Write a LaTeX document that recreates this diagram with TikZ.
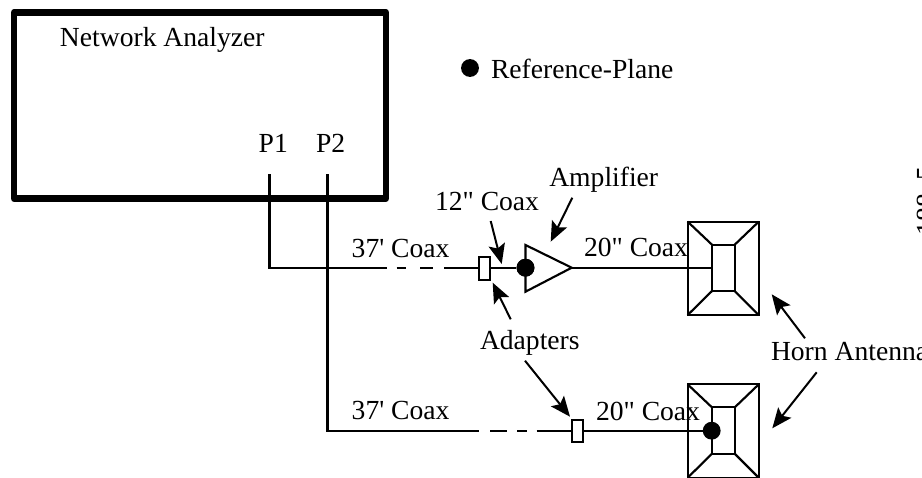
\documentclass[tikz,border=0pt]{standalone}
\usepackage{fontspec}
\setmainfont{Liberation Serif}
\newfontfamily\labelserif{Liberation Serif}
\usetikzlibrary{arrows.meta}
\tikzset{
  wire/.style={line width=1.6pt, line cap=butt, line join=miter},
  thickbox/.style={line width=4.9pt, line join=round},
  lab/.style={anchor=base west, inner sep=0pt, outer sep=0pt, font=\labelserif\fontsize{20.7pt}{23pt}\selectfont},
  refdot/.style={circle, fill=black, draw=none, minimum size=13.4pt, inner sep=0pt},
  adapter/.style={draw, fill=white, line width=1.5pt, minimum width=8pt, minimum height=16.8pt, inner sep=0pt},
  pointer/.style={line width=1.5pt, -{Stealth[length=15pt, width=12.5pt, inset=3pt]}}
}
\newcommand{\hornshape}[1]{%
  \begin{scope}[yshift=#1*-0.75pt]
    \draw[wire] (687.7,221.7) rectangle (758.7,315);
    \draw[wire] (712,244.7) rectangle (734.7,291);
    \draw[wire] (687.7,221.7) -- (712,244.7) (758.7,221.7) -- (734.7,244.7)
                (687.7,315) -- (712,291) (758.7,315) -- (734.7,291);
  \end{scope}}
\begin{document}
\begin{tikzpicture}[x=0.75pt,y=-0.75pt]
\useasboundingbox (0,0) rectangle (922,478);
\clip (0,0) rectangle (922,478);
\fill[white] (0,0) rectangle (922,478);

% analyzer
\draw[thickbox] (14,12.5) rectangle (386,198.5);
\node[lab] (na) at (60,46.7) {Network Analyzer};
\node[lab] (p1) at (258.7,152) {P1};
\node[lab] (p2) at (316,152) {P2};
\coordinate (p1s) at (269.5,174);
\coordinate (p2s) at (327.5,174);

% legend
\node[refdot] (legend) at (470,68) {};
\node[lab] (reftxt) at (491,78.3) {Reference-Plane};

% horns
\hornshape{0}
\hornshape{162.7}
\coordinate (h1) at (712,267.7);

% upper chain
\node[adapter] (ad1) at (484.7,268.3) {};
\node[refdot] (rp1) at (525.5,267.7) {};
\coordinate (ampt) at (525.5,245);
\coordinate (ampb) at (525.5,291.7);
\coordinate (ampa) at (571.7,267.7);
\coordinate (c1) at (386.7,267.7);
\draw[wire] (p1s) -- (269.5,267.7) -- (c1);
\draw[wire] (396.7,267.7) -- (406,267.7);
\draw[wire] (420,267.7) -- (433,267.7);
\draw[wire] (444,267.7) -- (ad1.west |- c1);
\draw[wire] (ad1.east |- c1) -- (rp1);
\draw[wire] (ampt) -- (ampa) -- (ampb) -- cycle;
\draw[wire] (ampa) -- (h1);
\node[refdot] at (rp1) {};

% lower chain
\node[adapter] (ad2) at (577.8,430.7) {};
\node[refdot] (rp2) at (711.7,430.7) {};
\coordinate (c2) at (479.3,430.7);
\draw[wire] (p2s) -- (327.5,430.7) -- (c2);
\draw[wire] (490,430.7) -- (506.7,430.7);
\draw[wire] (517,430.7) -- (527,430.7);
\draw[wire] (536.7,430.7) -- (ad2.west);
\draw[wire] (ad2.east) -- (rp2);

% labels
\node[lab] (c37a) at (351.7,257) {37' Coax};
\node[lab] (c37b) at (351.7,419) {37' Coax};
\node[lab] (c12) at (435,210) {12" Coax};
\node[lab] (amp) at (549.3,186.7) {Amplifier};
\node[lab] (c20a) at (584,256.7) {20" Coax};
\node[lab] (c20b) at (596,420) {20" Coax};
\node[lab] (adp) at (480,349.3) {Adapters};
\node[lab] (horn) at (771,360) {Horn Antenna};
\node[lab, rotate=90] (edge) at (935.5,235) {188\hspace{4.5pt} 5};

% pointers
\coordinate (a1s) at (572.3,197.7); \coordinate (a1e) at (550.7,241.7);
\coordinate (a2s) at (490.7,221);   \coordinate (a2e) at (501.7,264);
\coordinate (a3s) at (510.7,319.3); \coordinate (a3e) at (492.7,282.7);
\coordinate (a4s) at (525,360.7);   \coordinate (a4e) at (570,416.7);
\coordinate (a5s) at (805,338.3);   \coordinate (a5e) at (771.7,294.3);
\coordinate (a6s) at (816.7,372.3); \coordinate (a6e) at (772.3,428.3);
\foreach \n in {1,...,6} \draw[pointer] (a\n s) -- (a\n e);
\end{tikzpicture}
\end{document}
